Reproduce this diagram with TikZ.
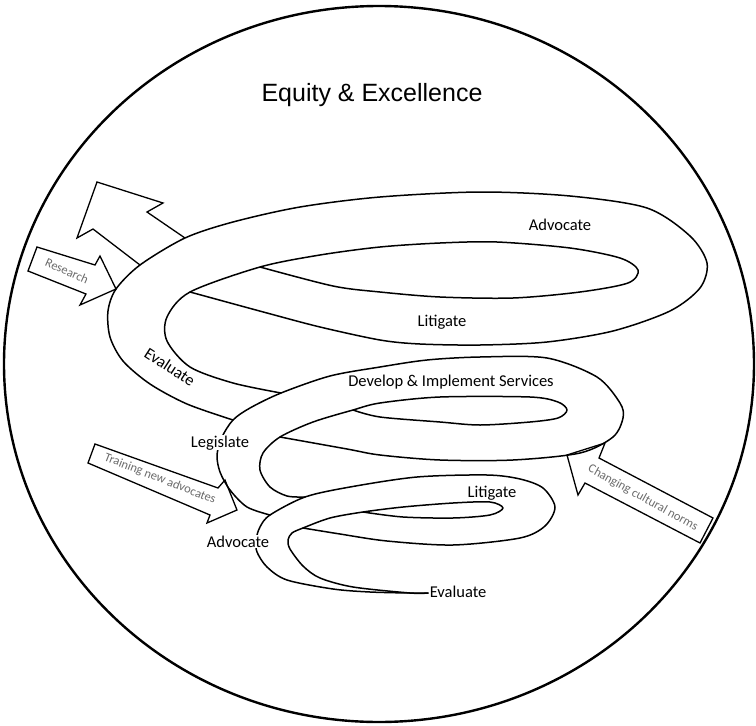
\documentclass[tikz,border=0pt]{standalone}
\usepackage{fontspec}
\setmainfont{Carlito}
\newfontfamily\titlefont{Liberation Sans}

\tikzset{
  ribbon/.style={line width=1.5pt, line join=round, line cap=round},
  blockarrow/.style={line width=1.3pt, line join=miter},
  lab/.style={font=\fontsize{16.5}{18}\selectfont, fill=white, inner sep=0.6pt, anchor=base},
  arrowlab/.style={font=\fontsize{12.5}{14}\selectfont, text=black!58, inner sep=0pt},
}

\begin{document}
\begin{tikzpicture}[x=1pt, y=-1pt]
  \useasboundingbox (0,0) rectangle (756,726);
  \draw[line width=2.4pt] (379,364) ellipse [x radius=375, y radius=358];

  %% junctions of the ribbon edges
  \coordinate (Ja) at (233,420);
  \coordinate (Jb) at (281,393);
  \coordinate (Jc) at (260,267);
  \coordinate (Jd) at (190,292);
  \coordinate (Je) at (270,515);
  \coordinate (Jf) at (280,437);
  \coordinate (Jg) at (305,497);
  \coordinate (Jh) at (353,410);
  \coordinate (Ji) at (303,528);
  \coordinate (Jk) at (363,512);
  \coordinate (Tip) at (428,593);
  %% where the block arrows meet the ribbon
  \coordinate (AL) at (140,265);
  \coordinate (AR) at (185,238);
  \coordinate (RT) at (116,289);
  \coordinate (TT) at (237,510);
  \coordinate (CT) at (567,455);

  %% top coil
  \draw[ribbon] plot[smooth] coordinates {(Ja) (187,404) (150,384) (123,361) (110,337) (108,311) (RT) (AL) (AR) (233,222) (300,207) (380,197) (480,192) (570,196) (647,208) (690,236) (707,263) (700,288) (670,311) (613,331) (547,342) (480,345) (420,344) (380,340) (320,327) (267,313) (Jd)};
  \draw[ribbon] plot[smooth] coordinates {(Jb) (233,383) (190,367) (167,341) (167,317) (Jd) (Jc) (320,255) (380,247) (440,243) (497,242) (570,248) (620,258) (638,270) (628,283) (580,292) (513,298) (440,297) (380,292) (333,286) (Jc)};

  %% middle coil
  \draw[ribbon] plot[smooth] coordinates {(Je) (247,507) (230,490) (220,472) (217,455) (222,437) (Ja) (250,408) (Jb) (330,376) (380,367) (427,360) (480,357) (547,358) (597,377) (620,403) (623,418) (613,437) (580,453) (513,460) (440,460) (380,455) (347,449) (Jf)};
  \draw[ribbon] plot[smooth] coordinates {(Jg) (287,496) (270,487) (260,470) (263,453) (Jf) (313,422) (Jh) (380,403) (440,397) (530,397) (558,402) (567,410) (558,418) (530,422) (480,425) (440,422) (380,417) (Jh)};

  %% bottom coil
  \draw[ribbon] plot[smooth] coordinates {(Tip) (410,593) (370,592) (333,589) (287,580) (267,567) (257,552) (256,540) (260,527) (Je) (Jg) (350,487) (417,477) (487,475) (520,479) (543,488) (555,507) (545,526) (520,538) (453,545) (387,541) (340,534) (Ji)};
  \draw[ribbon] plot[smooth] coordinates {(Tip) (410,593) (353,587) (320,578) (303,566) (290,549) (288,540) (292,533) (Ji) (330,518) (Jk) (403,507) (453,503) (490,502) (503,508) (490,515) (453,518) (403,517) (Jk)};

  %% block arrows
  \draw[blockarrow] (AL) -- (93,229) -- (77,238) -- (97,182) -- (163,203) -- (147,212) -- (AR);
  \draw[blockarrow] (37,247) -- (95,265) -- (100,256) -- (RT) -- (80,305) -- (86,294) -- (28,271) -- cycle;
  \draw[blockarrow] (95,444) -- (218,488) -- (225,480) -- (TT) -- (207,523) -- (210,515) -- (88,463) -- cycle;
  \draw[blockarrow] (CT) -- (605,443) -- (599,458) -- (713,518) -- (700,543) -- (585,483) -- (578,495) -- cycle;

  \node[arrowlab, rotate=-24] (research) at (67,271) {Research};
  \node[arrowlab, rotate=-21.5] (training) at (160,479) {Training new advocates};
  \node[arrowlab, rotate=-29] (norms) at (643,498) {Changing cultural norms};

  %% labels on the ribbon
  \node[font=\titlefont\fontsize{25}{30}\selectfont, anchor=base] (title) at (372,101) {Equity \& Excellence};
  \node[lab] (advtop) at (560,230) {Advocate};
  \node[lab] (littop) at (442,326) {Litigate};
  \node[lab, anchor=center, rotate=-33] (evaltop) at (170,367) {Evaluate};
  \node[lab] (devel) at (451,386) {Develop \& Implement Services};
  \node[lab] (legis) at (220,447) {Legislate};
  \node[lab] (advlow) at (238,547) {Advocate};
  \node[lab] (litlow) at (492,497) {Litigate};
  \node[lab, anchor=base west] (evallow) at (429,597) {Evaluate};
\end{tikzpicture}
\end{document}
